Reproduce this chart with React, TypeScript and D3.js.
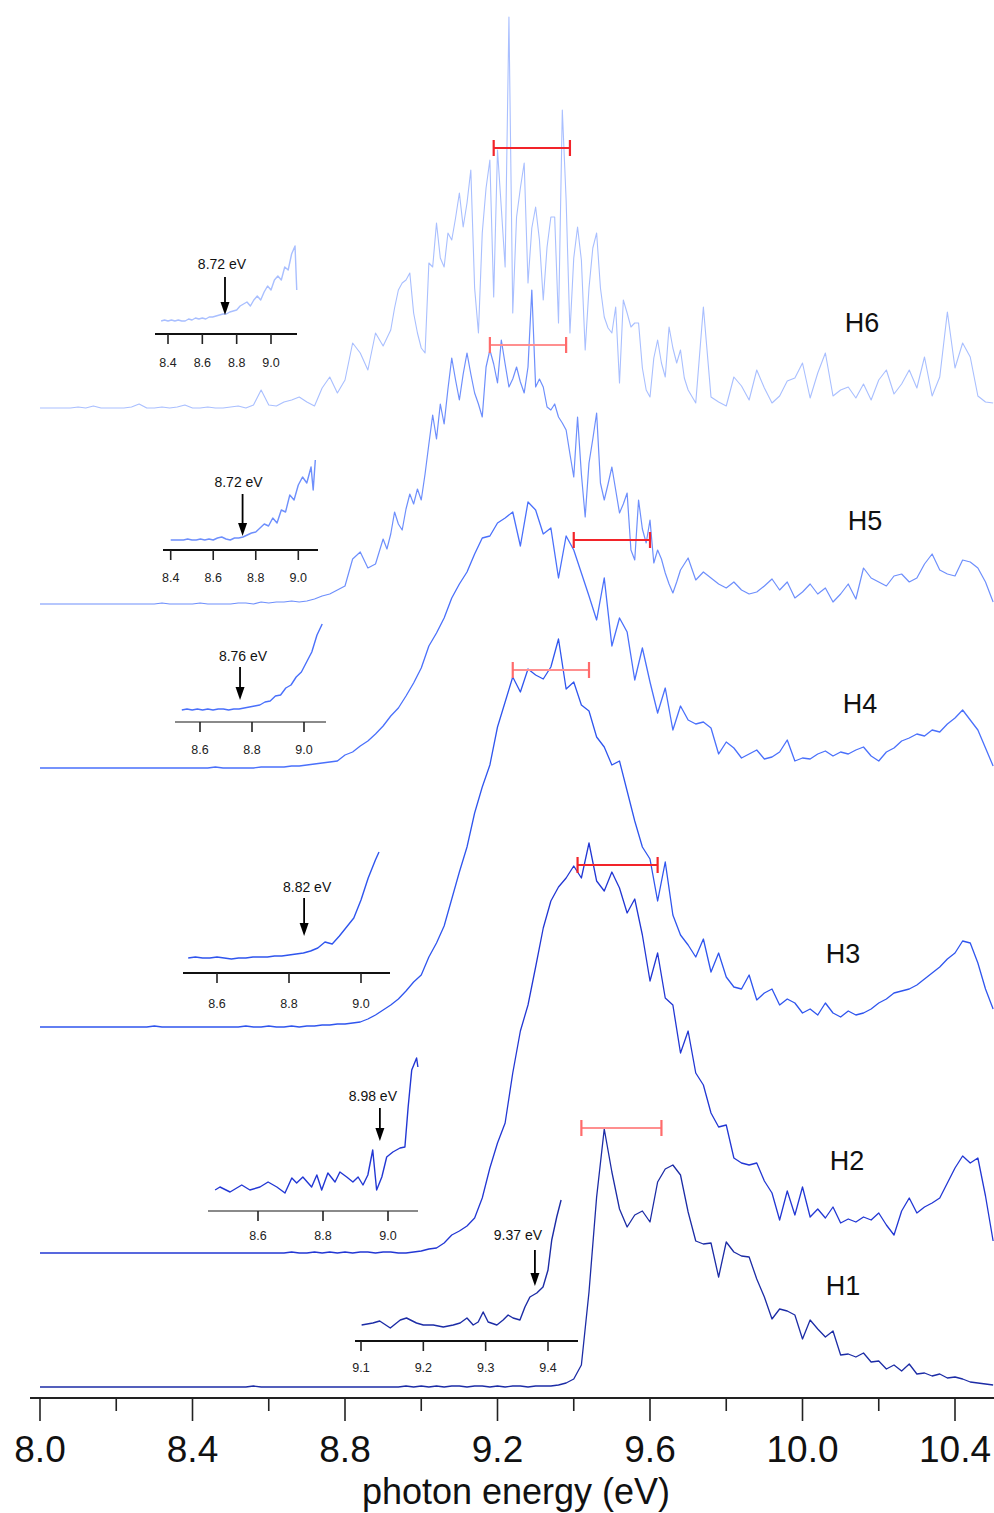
import React from 'react';
import * as d3 from 'd3';

// ---------------- DATA ----------------
// regular 0.02 eV grid (8.00 .. 10.50)
const energyGrid: number[] = d3.range(126).map((i) => +(8 + 0.02 * i).toFixed(2));
// denser grid for the two noisiest spectra (0.01 eV between 8.90 and 9.69)
const denseLeft: number[] = d3.range(45).map((i) => +(8 + 0.02 * i).toFixed(2));
const denseMid: number[] = d3.range(80).map((i) => +(8.9 + 0.01 * i).toFixed(2));
const denseRight: number[] = d3.range(41).map((i) => +(9.7 + 0.02 * i).toFixed(2));
const denseGrid: number[] = [...denseLeft, ...denseMid, ...denseRight];

const seriesNames = ['H6', 'H5', 'H4', 'H3', 'H2', 'H1'];
const seriesOffsets = [990, 794, 630, 371, 145, 11];

const h6 = [
 // 8.00 - 8.88 (0.02)
 0,0,0,0,0,1,0,2,0,0,
 0,0,1,4,0,0,1,0,1,3,
 0,0,1,0,0,1,2,0,3,18,
 3,2,6,8,11,6,2,20,31,15,
 28,65,55,38,75,
 // 8.90 - 9.69 (0.01)
 62,70,78,100,118,125,128,135,95,75,
 60,55,145,141,185,150,141,175,168,190,
 215,181,205,238,120,75,175,220,248,111,
 258,200,141,391,95,191,220,245,125,180,
 201,168,108,161,191,191,85,298,208,75,
 150,181,148,58,120,160,175,120,91,80,
 75,101,25,108,95,81,85,85,40,18,
 11,50,68,45,31,81,60,45,58,30,
 // 9.70 - 10.50 (0.02)
 18,5,101,11,6,
 2,31,22,8,38,20,5,12,27,30,
 45,10,35,55,12,18,21,10,24,8,
 28,38,14,24,38,20,51,12,31,96,
 40,65,51,12,6,5];

const h5 = [
 // 8.00 - 8.88
 0,0,0,0,0,0,0,0,0,0,
 0,0,0,0,0,0,1,0,0,0,
 0,1,0,0,0,0,1,1,0,2,
 1,2,2,3,2,3,5,8,10,14,
 18,45,52,36,40,
 // 8.90 - 9.69
 65,55,70,92,80,74,95,110,100,115,
 104,130,160,189,165,200,180,215,246,224,
 204,230,251,230,211,200,187,237,254,240,
 221,264,240,217,225,237,222,211,237,314,
 217,225,217,197,194,200,187,181,174,150,
 127,187,130,87,141,165,191,121,104,120,
 137,114,91,100,111,54,44,104,75,61,
 84,41,54,45,31,20,11,22,34,40,
 // 9.70 - 10.50
 46,24,32,26,20,
 16,22,14,10,12,18,25,14,22,6,
 12,20,10,16,2,10,20,5,36,26,
 22,18,28,30,22,26,40,50,34,30,
 28,44,42,36,22,2];

const h4 = [0,0,0,0,0,0,0,0,0,0,
 0,0,0,0,0,0,0,0,0,0,
 0,0,0,1,0,0,0,0,0,1,
 1,1,1,2,2,3,4,5,6,7,
 13,16,22,27,34,42,52,60,72,85,
 100,122,135,150,170,184,196,214,230,232,
 245,250,256,222,266,258,234,240,190,232,
 218,195,172,148,190,122,150,136,88,120,
 86,55,80,38,62,48,44,46,40,14,
 26,20,10,14,18,9,11,16,28,7,
 10,9,14,17,12,16,14,18,21,12,
 7,16,20,27,30,34,32,38,36,44,
 50,58,48,38,20,2];

const h3 = [0,0,0,0,0,0,0,0,0,0,
 0,0,0,0,0,1,0,0,0,0,
 0,0,0,0,0,0,0,1,0,0,
 1,0,0,1,0,1,1,2,2,3,
 3,4,5,8,12,17,22,28,36,45,
 52,70,84,101,128,155,180,214,240,262,
 300,325,350,335,358,352,348,360,388,338,
 345,322,316,290,280,262,266,236,206,180,
 168,126,165,112,92,82,70,88,55,74,
 50,40,38,52,27,34,38,22,28,24,
 14,18,12,24,14,10,16,12,14,18,
 24,28,34,36,38,42,48,54,60,68,
 74,86,84,64,38,18];

const h2 = [0,0,0,0,0,0,0,0,0,0,
 0,0,0,0,0,0,0,0,0,0,
 0,0,0,0,0,0,0,0,0,0,
 0,0,0,1,0,0,1,0,1,0,
 1,0,1,1,0,1,1,0,0,1,
 2,4,5,10,18,22,27,35,55,85,
 110,130,180,222,248,286,325,352,366,375,
 387,375,410,372,362,381,365,340,354,318,
 272,300,255,248,200,222,180,168,140,126,
 128,95,90,88,90,72,60,33,62,38,
 66,36,44,35,46,30,34,31,36,33,
 40,28,18,42,55,40,46,50,55,70,
 85,97,90,95,57,12];

const h1 = [0,0,0,0,0,0,0,0,0,0,
 0,0,0,0,0,0,0,0,0,0,
 0,0,0,0,0,0,0,0,1,0,
 0,0,0,0,0,0,0,0,0,0,
 0,0,0,0,0,0,0,0,1,0,
 1,0,1,0,1,1,0,1,1,0,
 1,0,1,1,0,1,1,1,2,4,
 8,22,95,190,258,215,178,160,172,176,
 165,205,218,222,212,175,146,143,144,110,
 145,135,131,130,108,90,68,78,76,72,
 48,67,58,50,56,32,33,30,34,25,
 26,18,22,16,23,13,14,11,13,9,
 10,8,5,4,3,2];

const seriesValues = [h6, h5, h4, h3, h2, h1];
const seriesEnergies = [denseGrid, denseGrid, energyGrid, energyGrid, energyGrid, energyGrid];

// red bars (energy range and level above each trace's baseline)
const barLow = [9.19, 9.18, 9.40, 9.24, 9.41, 9.42];
const barHigh = [9.39, 9.38, 9.60, 9.44, 9.62, 9.63];
const barLevel = [260, 259, 228, 357, 388, 259];
const barFaded = [false, true, false, true, false, true];

// main axis
const majorTicks = [8.0, 8.4, 8.8, 9.2, 9.6, 10.0, 10.4];
const majorTickLabels = ['8.0', '8.4', '8.8', '9.2', '9.6', '10.0', '10.4'];
const minorTicks = [8.2, 8.6, 9.0, 9.4, 9.8, 10.2];
const axisTitle = 'photon energy (eV)';

// insets (threshold zooms)
const insetE6 = [8.36,8.38,8.40,8.42,8.44,8.46,8.48,8.50,8.52,8.54,8.56,8.58,8.60,8.62,8.64,8.66,8.68,8.70,8.72,8.74,8.76,8.78,8.80,8.82,8.84,8.86,8.88,8.90,8.92,8.94,8.96,8.98,9.00,9.02,9.04,9.06,9.08,9.10,9.12,9.14,9.15];
const insetV6 = [1,2,1,2,1,2,1,1,3,2,4,3,4,3,5,5,6,7,8,8,10,11,12,16,18,20,16,22,26,22,30,36,32,42,46,42,55,52,68,76,32];

const insetE5 = [8.40,8.42,8.44,8.46,8.48,8.50,8.52,8.54,8.56,8.58,8.60,8.62,8.64,8.66,8.68,8.70,8.72,8.74,8.76,8.78,8.80,8.82,8.84,8.86,8.88,8.90,8.92,8.94,8.96,8.98,9.00,9.02,9.04,9.06,9.07,9.08];
const insetV5 = [0,0,0,0,1,0,0,1,0,1,0,2,3,1,0,2,2,3,5,7,8,12,16,14,22,17,30,28,45,40,55,63,57,73,50,80];

const insetE4 = [8.53,8.55,8.57,8.59,8.61,8.63,8.65,8.67,8.69,8.71,8.73,8.75,8.77,8.79,8.81,8.83,8.85,8.87,8.89,8.91,8.93,8.95,8.97,8.99,9.01,9.03,9.05,9.07];
const insetV4 = [0,1,0,1,0,1,0,1,1,0,1,1,2,3,4,5,8,9,14,15,22,25,33,38,48,58,75,86];

const insetE3 = [8.52,8.54,8.56,8.58,8.60,8.62,8.64,8.66,8.68,8.70,8.72,8.74,8.76,8.78,8.80,8.82,8.84,8.86,8.88,8.90,8.92,8.94,8.96,8.98,9.00,9.02,9.04,9.05];
const insetV3 = [0,1,0,0,1,0,-1,0,0,1,1,1,2,2,3,4,5,7,10,16,14,22,31,40,58,80,98,106];

const insetE2 = [8.468,8.483,8.514,8.55,8.575,8.606,8.631,8.658,8.683,8.704,8.719,8.738,8.765,8.781,8.796,8.815,8.837,8.852,8.873,8.892,8.908,8.923,8.938,8.953,8.965,8.981,8.996,9.015,9.037,9.052,9.062,9.073,9.088,9.092];
const insetV2 = [0,3,-2,5,0,3,8,3,-3,12,7,13,3,15,0,17,8,18,13,8,13,5,15,40,0,13,33,38,42,43,83,120,132,123];

const insetE1 = [9.101,9.119,9.130,9.147,9.163,9.173,9.189,9.200,9.216,9.232,9.248,9.259,9.270,9.280,9.288,9.296,9.304,9.318,9.328,9.336,9.344,9.355,9.363,9.371,9.382,9.392,9.400,9.406,9.414,9.421];
const insetV1 = [0,2,4,-3,5,7,2,0,0,-2,0,2,7,0,3,13,3,0,5,10,7,5,18,28,32,38,55,85,108,125];

const insetTicks6 = [8.4, 8.6, 8.8, 9.0];
const insetTicks5 = [8.4, 8.6, 8.8, 9.0];
const insetTicks4 = [8.6, 8.8, 9.0];
const insetTicks3 = [8.6, 8.8, 9.0];
const insetTicks2 = [8.6, 8.8, 9.0];
const insetTicks1 = [9.1, 9.2, 9.3, 9.4];
const insetThresholds = [8.732, 8.738, 8.754, 8.842, 8.975, 9.379];
const insetThresholdLabels = ['8.72 eV', '8.72 eV', '8.76 eV', '8.82 eV', '8.98 eV', '9.37 eV'];

// ---------------- STYLE / LAYOUT ----------------
const colors = ['#a9bfff', '#6e8ffc', '#4a70fb', '#2f55ee', '#2237d4', '#1c2ca6'];
const strokeWidths = [1.1, 1.2, 1.3, 1.3, 1.3, 1.3];
const labelPos = [[862, 332], [865, 530], [860, 713], [843, 963], [847, 1170], [843, 1295]];
const FONT = '"Liberation Sans", Arial, Helvetica, sans-serif';

const insetLayouts = [
  { E: insetE6, V: insetV6, ticks: insetTicks6, domain: [8.4, 9.0], range: [168, 271], axisX: [155, 297], axisY: 334, baseY: 322, labelY: 367, arrowTop: 277, arrowTip: 315, textY: 269, textDx: -3, gray: false },
  { E: insetE5, V: insetV5, ticks: insetTicks5, domain: [8.4, 9.0], range: [170.7, 298.3], axisX: [163, 318], axisY: 550, baseY: 540, labelY: 582, arrowTop: 494, arrowTip: 536, textY: 487, textDx: -4, gray: false },
  { E: insetE4, V: insetV4, ticks: insetTicks4, domain: [8.6, 9.0], range: [200, 304], axisX: [175, 326], axisY: 722, baseY: 710, labelY: 754, arrowTop: 667, arrowTip: 700, textY: 661, textDx: 3, gray: true },
  { E: insetE3, V: insetV3, ticks: insetTicks3, domain: [8.6, 9.0], range: [217, 361], axisX: [183, 390], axisY: 973, baseY: 958, labelY: 1008, arrowTop: 898, arrowTip: 936, textY: 892, textDx: 3, gray: false },
  { E: insetE2, V: insetV2, ticks: insetTicks2, domain: [8.6, 9.0], range: [258, 388], axisX: [208, 418], axisY: 1211, baseY: 1190, labelY: 1240, arrowTop: 1108, arrowTip: 1141, textY: 1101, textDx: -7, gray: true },
  { E: insetE1, V: insetV1, ticks: insetTicks1, domain: [9.1, 9.4], range: [361, 548], axisX: [355, 578], axisY: 1341, baseY: 1325, labelY: 1372, arrowTop: 1250, arrowTip: 1286, textY: 1240, textDx: -17, gray: false },
];

function Inset({ idx }: { idx: number }) {
  const L = insetLayouts[idx];
  const xi = d3.scaleLinear().domain(L.domain).range(L.range);
  const yi = d3.scaleLinear().domain([0, 100]).range([L.baseY, L.baseY - 100]);
  const path = d3.line<number>().x((_, i) => xi(L.E[i])).y((v) => yi(v))(L.V) || '';
  const ax = xi(insetThresholds[idx]);
  const axisColor = L.gray ? '#8a8a8a' : '#111';
  return (
    <g>
      <path d={path} fill="none" stroke={colors[idx]} strokeWidth={1.4} strokeLinejoin="round" />
      <line x1={L.axisX[0]} x2={L.axisX[1]} y1={L.axisY} y2={L.axisY} stroke={axisColor} strokeWidth={2} />
      {L.ticks.map((t) => (
        <g key={t}>
          <line x1={xi(t)} x2={xi(t)} y1={L.axisY} y2={L.axisY + 10} stroke="#222" strokeWidth={1.6} />
          <text x={xi(t)} y={L.labelY} textAnchor="middle" fontSize={12.5} fontFamily={FONT} fill="#222">{t.toFixed(1)}</text>
        </g>
      ))}
      <line x1={ax} x2={ax} y1={L.arrowTop} y2={L.arrowTip - 10} stroke="#000" strokeWidth={1.8} />
      <path d={`M${ax - 4.5},${L.arrowTip - 13} L${ax + 4.5},${L.arrowTip - 13} L${ax},${L.arrowTip} Z`} fill="#000" />
      <text x={ax + L.textDx} y={L.textY} textAnchor="middle" fontSize={14} fontFamily={FONT} fill="#111">{insetThresholdLabels[idx]}</text>
    </g>
  );
}

export default function App() {
  const x = d3.scaleLinear().domain([8.0, 10.4]).range([40, 955]);
  const y = d3.scaleLinear().domain([0, 1390]).range([1398, 8]);

  const makePath = (vals: number[], energies: number[], off: number) =>
    d3.line<number>().x((_, i) => x(energies[i])).y((v) => y(v + off))(vals) || '';

  return (
    <svg width={994} height={1513} style={{ position: 'absolute', left: 0, top: 0, background: '#fff' }}>
      <rect x={0} y={0} width={994} height={1513} fill="#fff" />

      {/* traces */}
      {seriesValues.map((vals, k) => (
        <path key={seriesNames[k]} d={makePath(vals, seriesEnergies[k], seriesOffsets[k])} fill="none" stroke={colors[k]} strokeWidth={strokeWidths[k]} strokeLinejoin="round" />
      ))}

      {/* red bars */}
      {barLow.map((lo, k) => {
        const yy = y(barLevel[k] + seriesOffsets[k]);
        const c = barFaded[k] ? '#ff8f8f' : '#f2242a';
        const cap = barFaded[k] ? '#ff6b6b' : '#f2242a';
        return (
          <g key={'bar' + k}>
            <line x1={x(lo)} x2={x(barHigh[k])} y1={yy} y2={yy} stroke={c} strokeWidth={2.2} />
            <line x1={x(lo)} x2={x(lo)} y1={yy - 8} y2={yy + 8} stroke={cap} strokeWidth={2.2} />
            <line x1={x(barHigh[k])} x2={x(barHigh[k])} y1={yy - 8} y2={yy + 8} stroke={cap} strokeWidth={2.2} />
          </g>
        );
      })}

      {/* series labels */}
      {seriesNames.map((n, k) => (
        <text key={'lab' + n} x={labelPos[k][0]} y={labelPos[k][1]} textAnchor="middle" fontSize={27} fontFamily={FONT} fill="#111">{n}</text>
      ))}

      {/* insets */}
      {insetLayouts.map((_, i) => <Inset key={'inset' + i} idx={i} />)}

      {/* main axis */}
      <line x1={30} x2={994} y1={y(0)} y2={y(0)} stroke="#222" strokeWidth={2} />
      {majorTicks.map((t, i) => (
        <g key={'mt' + t}>
          <line x1={x(t)} x2={x(t)} y1={y(0)} y2={y(0) + 23} stroke="#222" strokeWidth={1.6} />
          <text x={x(t)} y={1462} textAnchor="middle" fontSize={37} fontFamily={FONT} fill="#111">{majorTickLabels[i]}</text>
        </g>
      ))}
      {minorTicks.map((t) => (
        <line key={'mn' + t} x1={x(t)} x2={x(t)} y1={y(0)} y2={y(0) + 13} stroke="#222" strokeWidth={1.6} />
      ))}
      <text x={516} y={1504} textAnchor="middle" fontSize={36} fontFamily={FONT} fill="#111">{axisTitle}</text>
    </svg>
  );
}
